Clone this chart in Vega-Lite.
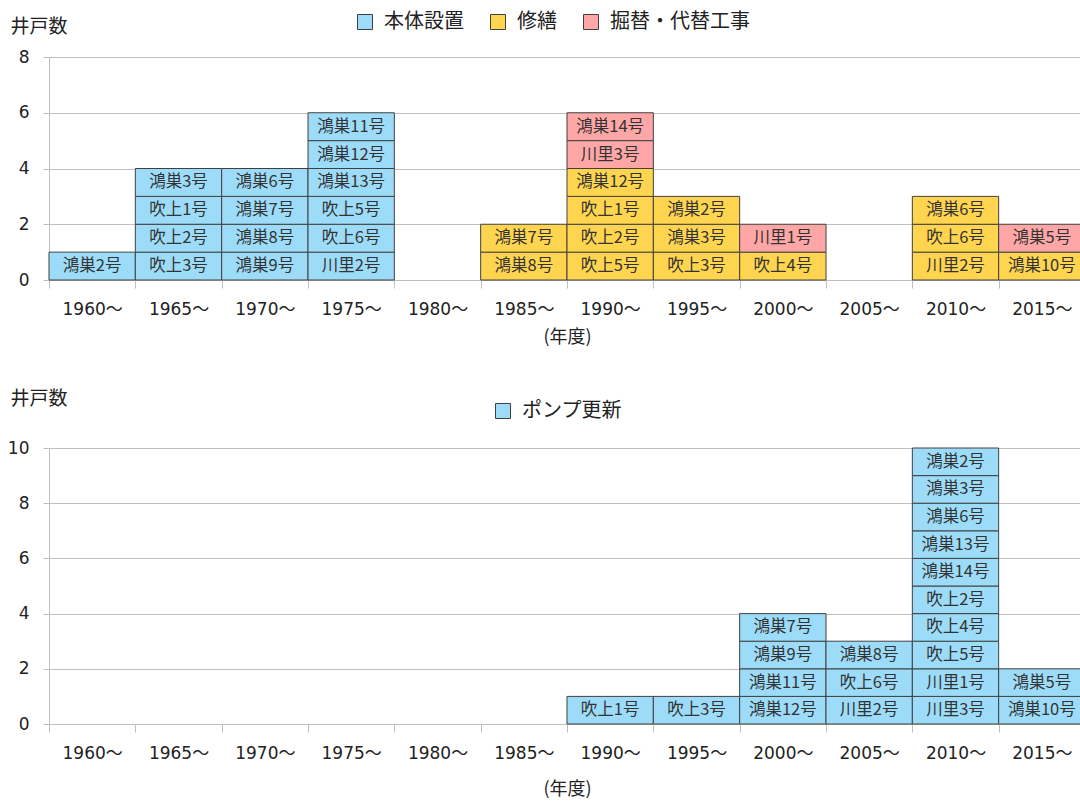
{
  "$schema": "https://vega.github.io/schema/vega-lite/v6.json",
  "padding": {"left": 7, "top": 12, "right": 0, "bottom": 0},
  "config": {
    "font": "Noto Sans CJK JP",
    "view": {"stroke": null},
    "axis": {"labelColor": "#222", "titleColor": "#222", "titleFontWeight": "normal", "labelFont": "DejaVu Sans, Noto Sans CJK JP"},
    "legend": {"labelColor": "#222"}
  },
  "spacing": 43,
  "datasets": {
    "top": [
      {"period": "1960～", "type": "本体設置", "label": "鴻巣2号", "pos": 1, "n": 1},
      {"period": "1965～", "type": "本体設置", "label": "吹上3号", "pos": 1, "n": 1},
      {"period": "1965～", "type": "本体設置", "label": "吹上2号", "pos": 2, "n": 1},
      {"period": "1965～", "type": "本体設置", "label": "吹上1号", "pos": 3, "n": 1},
      {"period": "1965～", "type": "本体設置", "label": "鴻巣3号", "pos": 4, "n": 1},
      {"period": "1970～", "type": "本体設置", "label": "鴻巣9号", "pos": 1, "n": 1},
      {"period": "1970～", "type": "本体設置", "label": "鴻巣8号", "pos": 2, "n": 1},
      {"period": "1970～", "type": "本体設置", "label": "鴻巣7号", "pos": 3, "n": 1},
      {"period": "1970～", "type": "本体設置", "label": "鴻巣6号", "pos": 4, "n": 1},
      {"period": "1975～", "type": "本体設置", "label": "川里2号", "pos": 1, "n": 1},
      {"period": "1975～", "type": "本体設置", "label": "吹上6号", "pos": 2, "n": 1},
      {"period": "1975～", "type": "本体設置", "label": "吹上5号", "pos": 3, "n": 1},
      {"period": "1975～", "type": "本体設置", "label": "鴻巣13号", "pos": 4, "n": 1},
      {"period": "1975～", "type": "本体設置", "label": "鴻巣12号", "pos": 5, "n": 1},
      {"period": "1975～", "type": "本体設置", "label": "鴻巣11号", "pos": 6, "n": 1},
      {"period": "1985～", "type": "修繕", "label": "鴻巣8号", "pos": 1, "n": 1},
      {"period": "1985～", "type": "修繕", "label": "鴻巣7号", "pos": 2, "n": 1},
      {"period": "1990～", "type": "修繕", "label": "吹上5号", "pos": 1, "n": 1},
      {"period": "1990～", "type": "修繕", "label": "吹上2号", "pos": 2, "n": 1},
      {"period": "1990～", "type": "修繕", "label": "吹上1号", "pos": 3, "n": 1},
      {"period": "1990～", "type": "修繕", "label": "鴻巣12号", "pos": 4, "n": 1},
      {"period": "1990～", "type": "掘替・代替工事", "label": "川里3号", "pos": 5, "n": 1},
      {"period": "1990～", "type": "掘替・代替工事", "label": "鴻巣14号", "pos": 6, "n": 1},
      {"period": "1995～", "type": "修繕", "label": "吹上3号", "pos": 1, "n": 1},
      {"period": "1995～", "type": "修繕", "label": "鴻巣3号", "pos": 2, "n": 1},
      {"period": "1995～", "type": "修繕", "label": "鴻巣2号", "pos": 3, "n": 1},
      {"period": "2000～", "type": "修繕", "label": "吹上4号", "pos": 1, "n": 1},
      {"period": "2000～", "type": "掘替・代替工事", "label": "川里1号", "pos": 2, "n": 1},
      {"period": "2010～", "type": "修繕", "label": "川里2号", "pos": 1, "n": 1},
      {"period": "2010～", "type": "修繕", "label": "吹上6号", "pos": 2, "n": 1},
      {"period": "2010～", "type": "修繕", "label": "鴻巣6号", "pos": 3, "n": 1},
      {"period": "2015～", "type": "修繕", "label": "鴻巣10号", "pos": 1, "n": 1},
      {"period": "2015～", "type": "掘替・代替工事", "label": "鴻巣5号", "pos": 2, "n": 1}
    ],
    "bottom": [
      {"period": "1990～", "type": "ポンプ更新", "label": "吹上1号", "pos": 1, "n": 1},
      {"period": "1995～", "type": "ポンプ更新", "label": "吹上3号", "pos": 1, "n": 1},
      {"period": "2000～", "type": "ポンプ更新", "label": "鴻巣12号", "pos": 1, "n": 1},
      {"period": "2000～", "type": "ポンプ更新", "label": "鴻巣11号", "pos": 2, "n": 1},
      {"period": "2000～", "type": "ポンプ更新", "label": "鴻巣9号", "pos": 3, "n": 1},
      {"period": "2000～", "type": "ポンプ更新", "label": "鴻巣7号", "pos": 4, "n": 1},
      {"period": "2005～", "type": "ポンプ更新", "label": "川里2号", "pos": 1, "n": 1},
      {"period": "2005～", "type": "ポンプ更新", "label": "吹上6号", "pos": 2, "n": 1},
      {"period": "2005～", "type": "ポンプ更新", "label": "鴻巣8号", "pos": 3, "n": 1},
      {"period": "2010～", "type": "ポンプ更新", "label": "川里3号", "pos": 1, "n": 1},
      {"period": "2010～", "type": "ポンプ更新", "label": "川里1号", "pos": 2, "n": 1},
      {"period": "2010～", "type": "ポンプ更新", "label": "吹上5号", "pos": 3, "n": 1},
      {"period": "2010～", "type": "ポンプ更新", "label": "吹上4号", "pos": 4, "n": 1},
      {"period": "2010～", "type": "ポンプ更新", "label": "吹上2号", "pos": 5, "n": 1},
      {"period": "2010～", "type": "ポンプ更新", "label": "鴻巣14号", "pos": 6, "n": 1},
      {"period": "2010～", "type": "ポンプ更新", "label": "鴻巣13号", "pos": 7, "n": 1},
      {"period": "2010～", "type": "ポンプ更新", "label": "鴻巣6号", "pos": 8, "n": 1},
      {"period": "2010～", "type": "ポンプ更新", "label": "鴻巣3号", "pos": 9, "n": 1},
      {"period": "2010～", "type": "ポンプ更新", "label": "鴻巣2号", "pos": 10, "n": 1},
      {"period": "2015～", "type": "ポンプ更新", "label": "鴻巣10号", "pos": 1, "n": 1},
      {"period": "2015～", "type": "ポンプ更新", "label": "鴻巣5号", "pos": 2, "n": 1}
    ]
  },
  "resolve": {"scale": {"color": "independent", "y": "independent"}, "legend": {"color": "independent"}},
  "vconcat": [
    {
      "width": 1036,
      "height": 223,
      "data": {"name": "top"},
      "transform": [
        {"stack": "n", "groupby": ["period"], "sort": [{"field": "pos"}], "as": ["y0", "y1"]},
        {"calculate": "(datum.y0 + datum.y1) / 2", "as": "ymid"}
      ],
      "encoding": {
        "x": {
          "field": "period", "type": "ordinal",
          "scale": {"domain": ["1960～","1965～","1970～","1975～","1980～","1985～","1990～","1995～","2000～","2005～","2010～","2015～"], "paddingInner": 0, "paddingOuter": 0},
          "axis": {"title": "(年度)", "labelAngle": 0, "labelFontSize": 17, "tickBand": "extent", "tickSize": 8, "tickColor": "#BFBFBF", "domainColor": "#BFBFBF", "labelPadding": 13, "titleFontSize": 18, "titlePadding": 11}
        }
      },
      "layer": [
        {
          "mark": {"type": "bar", "stroke": "#404040", "strokeWidth": 1},
          "encoding": {
            "y": {"field": "y0", "type": "quantitative", "scale": {"domain": [0, 8]},
              "axis": {"title": "井戸数", "titleAngle": 0, "titleAlign": "left", "titleBaseline": "middle", "titleX": -39, "titleY": -31, "titleFontSize": 19, "values": [0,2,4,6,8], "labelFontSize": 17, "tickSize": 6, "tickColor": "#BFBFBF", "domainColor": "#BFBFBF", "gridColor": "#BFBFBF", "labelPadding": 14}},
            "y2": {"field": "y1"},
            "color": {"field": "type", "type": "nominal",
              "scale": {"domain": ["本体設置", "修繕", "掘替・代替工事"], "range": ["#9DDCF9", "#FFD54F", "#FFA7A7"]},
              "legend": {"title": null, "orient": "none", "legendX": 306, "legendY": -45, "direction": "horizontal", "symbolType": "square", "symbolSize": 225, "symbolStrokeColor": "#404040", "symbolStrokeWidth": 1, "symbolOpacity": 1, "labelFontSize": 20, "columnPadding": 24, "labelOffset": 9}}
          }
        },
        {
          "mark": {"type": "text", "fontSize": 16.5, "color": "#333"},
          "encoding": {
            "y": {"field": "ymid", "type": "quantitative",
              "axis": {"title": "井戸数", "titleAngle": 0, "titleAlign": "left", "titleBaseline": "middle", "titleX": -39, "titleY": -31, "titleFontSize": 19, "values": [0,2,4,6,8], "labelFontSize": 17, "tickSize": 6, "tickColor": "#BFBFBF", "domainColor": "#BFBFBF", "gridColor": "#BFBFBF", "labelPadding": 14}},
            "text": {"field": "label"}
          }
        }
      ]
    },
    {
      "width": 1036,
      "height": 276,
      "data": {"name": "bottom"},
      "transform": [
        {"stack": "n", "groupby": ["period"], "sort": [{"field": "pos"}], "as": ["y0", "y1"]},
        {"calculate": "(datum.y0 + datum.y1) / 2", "as": "ymid"}
      ],
      "encoding": {
        "x": {
          "field": "period", "type": "ordinal",
          "scale": {"domain": ["1960～","1965～","1970～","1975～","1980～","1985～","1990～","1995～","2000～","2005～","2010～","2015～"], "paddingInner": 0, "paddingOuter": 0},
          "axis": {"title": "(年度)", "labelAngle": 0, "labelFontSize": 17, "tickBand": "extent", "tickSize": 8, "tickColor": "#BFBFBF", "domainColor": "#BFBFBF", "labelPadding": 13, "titleFontSize": 18, "titlePadding": 19}
        }
      },
      "layer": [
        {
          "mark": {"type": "bar", "stroke": "#404040", "strokeWidth": 1},
          "encoding": {
            "y": {"field": "y0", "type": "quantitative", "scale": {"domain": [0, 10]},
              "axis": {"title": "井戸数", "titleAngle": 0, "titleAlign": "left", "titleBaseline": "middle", "titleX": -39, "titleY": -50, "titleFontSize": 19, "values": [0,2,4,6,8,10], "labelFontSize": 17, "tickSize": 6, "tickColor": "#BFBFBF", "domainColor": "#BFBFBF", "gridColor": "#BFBFBF", "labelPadding": 14}},
            "y2": {"field": "y1"},
            "color": {"field": "type", "type": "nominal",
              "scale": {"domain": ["ポンプ更新"], "range": ["#9DDCF9"]},
              "legend": {"title": null, "orient": "none", "legendX": 444, "legendY": -47, "direction": "horizontal", "symbolType": "square", "symbolSize": 225, "symbolStrokeColor": "#404040", "symbolStrokeWidth": 1, "symbolOpacity": 1, "labelFontSize": 20, "labelOffset": 9}}
          }
        },
        {
          "mark": {"type": "text", "fontSize": 16.5, "color": "#333"},
          "encoding": {
            "y": {"field": "ymid", "type": "quantitative",
              "axis": {"title": "井戸数", "titleAngle": 0, "titleAlign": "left", "titleBaseline": "middle", "titleX": -39, "titleY": -50, "titleFontSize": 19, "values": [0,2,4,6,8,10], "labelFontSize": 17, "tickSize": 6, "tickColor": "#BFBFBF", "domainColor": "#BFBFBF", "gridColor": "#BFBFBF", "labelPadding": 14}},
            "text": {"field": "label"}
          }
        }
      ]
    }
  ]
}
